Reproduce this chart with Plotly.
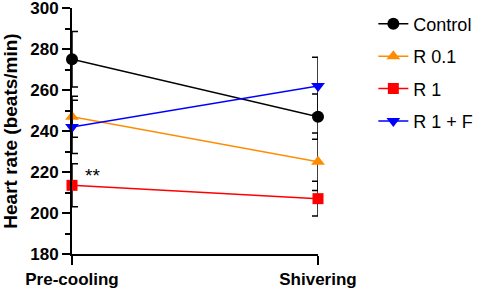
import plotly.graph_objects as go

conditions = ["Pre-cooling", "Shivering"]
series_names = ["Control", "R 0.1", "R 1", "R 1 + F"]
control = [275, 247]
r01 = [247, 225]
r1 = [213.5, 207]
r1f = [242, 262]
control_err = [13.5, 11]
r01_err = [10, 14]
r1_err = [10.5, 8.5]
r1f_err = [13, 14]
y_ticks = [180, 200, 220, 240, 260, 280, 300]

values = [control, r01, r1, r1f]
errors = [control_err, r01_err, r1_err, r1f_err]
colors = ["#000000", "#FF8C00", "#FF0000", "#0000FF"]
symbols = ["circle", "triangle-up", "square", "triangle-down"]

FONT = "Arial, Liberation Sans, sans-serif"
fig = go.Figure()
for i, (name, vals, errs) in enumerate(zip(series_names, values, errors)):
    fig.add_trace(go.Scatter(
        x=[0, 1], y=vals, name=name, mode="lines+markers",
        line=dict(color=colors[i], width=1.5),
        marker=dict(symbol=symbols[i], size=12 if symbols[i] != "square" else 11, color=colors[i]),
        error_y=dict(type="data", array=errs, visible=True, color="black", thickness=1.5, width=6),
        cliponaxis=False, legendgroup=name,
    ))

fig.add_annotation(x=0, y=r1[0], text="**", showarrow=False, xshift=20, yshift=10,
                   font=dict(family=FONT, size=19, color="black"))

fig.update_layout(
    width=484, height=291, margin=dict(l=72, r=166, t=8, b=37, autoexpand=False),
    plot_bgcolor="white", paper_bgcolor="white",
    font=dict(family=FONT, color="black"),
    showlegend=True,
    legend=dict(x=1.225, y=1.01, xanchor="left", yanchor="top", xref="paper",
                font=dict(family=FONT, size=18, color="black"),
                tracegroupgap=6, itemwidth=30, bgcolor="rgba(0,0,0,0)",
                borderwidth=0),
    xaxis=dict(range=[0, 1], tickvals=[0, 1], ticktext=conditions, automargin=False,
               showline=True, linecolor="black", linewidth=2, ticks="outside",
               ticklen=9, tickwidth=2, tickcolor="black", showgrid=False, zeroline=False,
               ticklabeloverflow="allow",
               tickfont=dict(family=FONT, size=17, color="black", weight="bold")),
    yaxis=dict(range=[180, 300], tickvals=y_ticks, automargin=False,
               showline=True, linecolor="black", linewidth=2, ticks="outside",
               ticklen=8, tickwidth=2, tickcolor="black", showgrid=False, zeroline=False,
               ticklabeloverflow="allow",
               minor=dict(dtick=10, ticks="outside", ticklen=5, tickwidth=1.5, tickcolor="black", showgrid=False),
               tickfont=dict(family=FONT, size=17, color="black", weight="bold"),
               title=dict(text="Heart rate (beats/min)", standoff=9,
                          font=dict(family=FONT, size=19, color="black", weight="bold"))),
)

fig.write_html("out.html", config={"displayModeBar": False},
               post_script="document.body.style.margin='0';document.body.style.overflow='hidden';")
